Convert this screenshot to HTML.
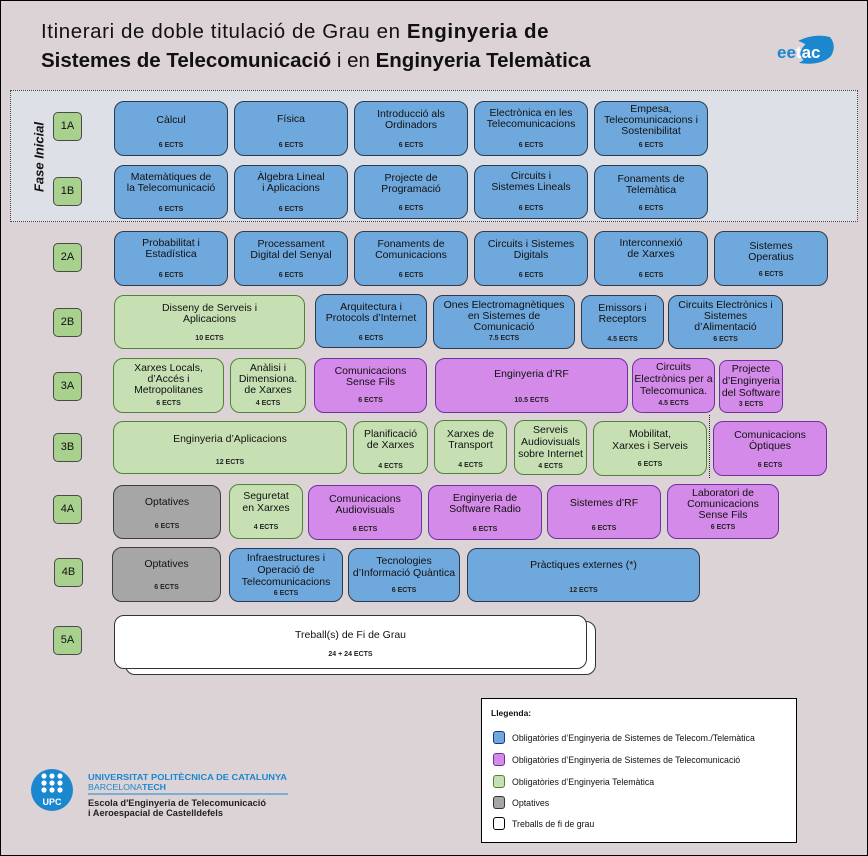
<!DOCTYPE html>
<html><head><meta charset="utf-8">
<style>
*{margin:0;padding:0;box-sizing:border-box}
html,body{width:868px;height:856px;overflow:hidden}
body{background:#dcd3d6;font-family:"Liberation Sans",Arial,sans-serif;color:#111;position:relative}
#frame{position:absolute;left:0;top:0;width:868px;height:856px;border:1px solid #000}
.title{position:absolute;left:41px;font-size:20.5px;white-space:nowrap;color:#111}
#fase{position:absolute;left:10px;top:90px;width:848px;height:132px;border:1px dotted #444;background:#dde0e6}
#faset{position:absolute;left:39px;top:157px;transform:translate(-50%,-50%) rotate(-90deg);font-size:13px;font-weight:bold;font-style:italic;white-space:nowrap}
.lbl{position:absolute;width:29px;height:29px;border:1px solid #4a4a4a;border-radius:5px;background:#a9d18e;font-size:11px;text-align:center;line-height:27px}
.b{position:absolute;border:1px solid #2e3a4a;border-radius:10px;background:#6fa8dc}
.p{background:#d48ae8;border-color:#7030a0}
.g{background:#c6e0b4;border-color:#548235}
.o{background:#a6a6a6;border-color:#3f3f3f}
.w{background:#fff;border-color:#333}
.t{position:absolute;left:-4px;right:-4px;text-align:center;font-size:10.5px;line-height:11px;white-space:nowrap}
.t.l12{line-height:12px}
.e{position:absolute;left:0;right:0;text-align:center;font-size:7px;line-height:8px;font-weight:bold;color:#222;white-space:nowrap}
#leg{position:absolute;left:481px;top:698px;width:316px;height:145px;background:#fff;border:1px solid #000}
.sw{position:absolute;left:11px;width:12px;height:13px;border-radius:3px;border:1px solid #000}
.lt{position:absolute;left:30px;font-size:8.8px;line-height:10px;white-space:nowrap;color:#111}
</style></head><body>
<div id="frame"></div>

<div class="title" style="top:20px;letter-spacing:0.6px">Itinerari de doble titulació de Grau en <b>Enginyeria de</b></div>
<div class="title" style="top:49px"><b>Sistemes de Telecomunicació</b> i en <b>Enginyeria Telemàtica</b></div>

<svg style="position:absolute;left:770px;top:30px" width="70" height="42" viewBox="770 30 70 42">
<path d="M798 41 Q814 33 830 37 Q837 46 831 56 Q821 66 799 63 Q808 58 810 50 Q808 44 798 41 Z" fill="#1b87cf"/>
<ellipse cx="816" cy="51" rx="16" ry="11" transform="rotate(-18 816 51)" fill="#1b87cf"/>
<text x="777" y="58" font-family="Liberation Sans, Arial, sans-serif" font-weight="bold" font-size="17" fill="#1b87cf">ee<tspan fill="#fff">tac</tspan></text>
</svg>

<div id="fase"></div>
<div id="faset">Fase Inicial</div>

<!-- labels -->
<div class="lbl" style="left:53px;top:112px">1A</div>
<div class="lbl" style="left:53px;top:177px">1B</div>
<div class="lbl" style="left:53px;top:243px">2A</div>
<div class="lbl" style="left:53px;top:308px">2B</div>
<div class="lbl" style="left:53px;top:372px">3A</div>
<div class="lbl" style="left:53px;top:433px">3B</div>
<div class="lbl" style="left:53px;top:495px">4A</div>
<div class="lbl" style="left:54px;top:558px">4B</div>
<div class="lbl" style="left:53px;top:626px">5A</div>

<!-- 1A -->
<div class="b" style="left:114px;top:101px;width:114px;height:55px"><div class="t" style="top:12.5px">Càlcul</div><div class="e" style="top:40px">6 ECTS</div></div>
<div class="b" style="left:234px;top:101px;width:114px;height:55px"><div class="t" style="top:11.5px">Física</div><div class="e" style="top:40px">6 ECTS</div></div>
<div class="b" style="left:354px;top:101px;width:114px;height:55px"><div class="t" style="top:6.5px">Introducció als<br>Ordinadors</div><div class="e" style="top:40px">6 ECTS</div></div>
<div class="b" style="left:474px;top:101px;width:114px;height:55px"><div class="t" style="top:5.5px">Electrònica en les<br>Telecomunicacions</div><div class="e" style="top:40px">6 ECTS</div></div>
<div class="b" style="left:594px;top:101px;width:114px;height:55px"><div class="t" style="top:1.5px">Empesa,<br>Telecomunicacions i<br>Sostenibilitat</div><div class="e" style="top:40px">6 ECTS</div></div>

<!-- 1B -->
<div class="b" style="left:114px;top:165px;width:114px;height:54px"><div class="t" style="top:5.5px">Matemàtiques de<br>la Telecomunicació</div><div class="e" style="top:40px">6 ECTS</div></div>
<div class="b" style="left:234px;top:165px;width:114px;height:54px"><div class="t" style="top:5.5px">Àlgebra Lineal<br>i Aplicacions</div><div class="e" style="top:40px">6 ECTS</div></div>
<div class="b" style="left:354px;top:165px;width:114px;height:54px"><div class="t" style="top:6.5px">Projecte de<br>Programació</div><div class="e" style="top:39px">6 ECTS</div></div>
<div class="b" style="left:474px;top:165px;width:114px;height:54px"><div class="t" style="top:4.5px">Circuits i<br>Sistemes Lineals</div><div class="e" style="top:39px">6 ECTS</div></div>
<div class="b" style="left:594px;top:165px;width:114px;height:54px"><div class="t" style="top:7.5px">Fonaments de<br>Telemàtica</div><div class="e" style="top:39px">6 ECTS</div></div>

<!-- 2A -->
<div class="b" style="left:114px;top:231px;width:114px;height:55px"><div class="t" style="top:5.5px">Probabilitat i<br>Estadística</div><div class="e" style="top:40px">6 ECTS</div></div>
<div class="b" style="left:234px;top:231px;width:114px;height:55px"><div class="t" style="top:6.5px">Processament<br>Digital del Senyal</div><div class="e" style="top:40px">6 ECTS</div></div>
<div class="b" style="left:354px;top:231px;width:114px;height:55px"><div class="t" style="top:6.5px">Fonaments de<br>Comunicacions</div><div class="e" style="top:40px">6 ECTS</div></div>
<div class="b" style="left:474px;top:231px;width:114px;height:55px"><div class="t" style="top:6.5px">Circuits i Sistemes<br>Digitals</div><div class="e" style="top:40px">6 ECTS</div></div>
<div class="b" style="left:594px;top:231px;width:114px;height:55px"><div class="t" style="top:5.5px">Interconnexió<br>de Xarxes</div><div class="e" style="top:40px">6 ECTS</div></div>
<div class="b" style="left:714px;top:231px;width:114px;height:55px"><div class="t" style="top:8.5px">Sistemes<br>Operatius</div><div class="e" style="top:39px">6 ECTS</div></div>

<!-- 2B -->
<div class="b g" style="left:114px;top:295px;width:191px;height:54px"><div class="t" style="top:6.5px">Disseny de Serveis i<br>Aplicacions</div><div class="e" style="top:39px">10 ECTS</div></div>
<div class="b" style="left:315px;top:294px;width:112px;height:54px"><div class="t" style="top:6.5px">Arquitectura i<br>Protocols d’Internet</div><div class="e" style="top:40px">6 ECTS</div></div>
<div class="b" style="left:433px;top:295px;width:142px;height:54px"><div class="t" style="top:3.5px">Ones Electromagnètiques<br>en Sistemes de<br>Comunicació</div><div class="e" style="top:39px">7.5 ECTS</div></div>
<div class="b" style="left:581px;top:295px;width:83px;height:54px"><div class="t" style="top:6.5px">Emissors i<br>Receptors</div><div class="e" style="top:40px">4.5 ECTS</div></div>
<div class="b" style="left:668px;top:295px;width:115px;height:54px"><div class="t" style="top:3.5px">Circuits Electrònics i<br>Sistemes<br>d’Alimentació</div><div class="e" style="top:40px">6 ECTS</div></div>

<!-- 3A -->
<div class="b g" style="left:113px;top:358px;width:111px;height:55px"><div class="t" style="top:3.5px">Xarxes Locals,<br>d’Accés i<br>Metropolitanes</div><div class="e" style="top:41px">6 ECTS</div></div>
<div class="b g" style="left:230px;top:358px;width:76px;height:55px"><div class="t" style="top:3.5px">Anàlisi i<br>Dimensiona.<br>de Xarxes</div><div class="e" style="top:41px">4 ECTS</div></div>
<div class="b p" style="left:314px;top:358px;width:113px;height:55px"><div class="t" style="top:6.5px">Comunicacions<br>Sense Fils</div><div class="e" style="top:38px">6 ECTS</div></div>
<div class="b p" style="left:435px;top:358px;width:193px;height:55px"><div class="t" style="top:9.5px">Enginyeria d’RF</div><div class="e" style="top:38px">10.5 ECTS</div></div>
<div class="b p" style="left:632px;top:358px;width:83px;height:55px"><div class="t l12" style="top:1.5px">Circuits<br>Electrònics per a<br>Telecomunica.</div><div class="e" style="top:41px">4.5 ECTS</div></div>
<div class="b p" style="left:719px;top:360px;width:64px;height:53px;border-radius:8px"><div class="t l12" style="top:1.5px">Projecte<br>d’Enginyeria<br>del Software</div><div class="e" style="top:40px">3 ECTS</div></div>

<!-- 3B -->
<div class="b g" style="left:113px;top:421px;width:234px;height:53px"><div class="t" style="top:11.5px">Enginyeria d’Aplicacions</div><div class="e" style="top:37px">12 ECTS</div></div>
<div class="b g" style="left:353px;top:421px;width:75px;height:53px"><div class="t" style="top:6.5px">Planificació<br>de Xarxes</div><div class="e" style="top:41px">4 ECTS</div></div>
<div class="b g" style="left:434px;top:420px;width:73px;height:54px"><div class="t" style="top:7.5px">Xarxes de<br>Transport</div><div class="e" style="top:41px">4 ECTS</div></div>
<div class="b g" style="left:514px;top:420px;width:73px;height:55px"><div class="t l12" style="top:3px">Serveis<br>Audiovisuals<br>sobre Internet</div><div class="e" style="top:42px">4 ECTS</div></div>
<div class="b g" style="left:593px;top:421px;width:114px;height:55px"><div class="t l12" style="top:6px">Mobilitat,<br>Xarxes i Serveis</div><div class="e" style="top:39px">6 ECTS</div></div>
<div style="position:absolute;left:709px;top:415px;width:0;height:63px;border-left:1px dotted #222"></div>
<div class="b p" style="left:713px;top:421px;width:114px;height:55px"><div class="t" style="top:7.5px">Comunicacions<br>Òptiques</div><div class="e" style="top:40px">6 ECTS</div></div>

<!-- 4A -->
<div class="b o" style="left:113px;top:485px;width:108px;height:54px"><div class="t" style="top:10.5px">Optatives</div><div class="e" style="top:37px">6 ECTS</div></div>
<div class="b g" style="left:229px;top:484px;width:74px;height:55px"><div class="t l12" style="top:5px">Seguretat<br>en Xarxes</div><div class="e" style="top:39px">4 ECTS</div></div>
<div class="b p" style="left:308px;top:485px;width:114px;height:55px"><div class="t" style="top:7.5px">Comunicacions<br>Audiovisuals</div><div class="e" style="top:40px">6 ECTS</div></div>
<div class="b p" style="left:428px;top:485px;width:114px;height:55px"><div class="t" style="top:6.5px">Enginyeria de<br>Software Radio</div><div class="e" style="top:40px">6 ECTS</div></div>
<div class="b p" style="left:547px;top:485px;width:114px;height:54px"><div class="t" style="top:11.5px">Sistemes d’RF</div><div class="e" style="top:39px">6 ECTS</div></div>
<div class="b p" style="left:667px;top:484px;width:112px;height:55px"><div class="t" style="top:2.5px">Laboratori de<br>Comunicacions<br>Sense Fils</div><div class="e" style="top:39px">6 ECTS</div></div>

<!-- 4B -->
<div class="b o" style="left:112px;top:547px;width:109px;height:55px"><div class="t" style="top:10.5px">Optatives</div><div class="e" style="top:36px">6 ECTS</div></div>
<div class="b" style="left:229px;top:548px;width:114px;height:54px"><div class="t l12" style="top:3px">Infraestructures i<br>Operació de<br>Telecomunicacions</div><div class="e" style="top:41px">6 ECTS</div></div>
<div class="b" style="left:348px;top:548px;width:112px;height:54px"><div class="t l12" style="top:6px">Tecnologies<br>d’Informació Quàntica</div><div class="e" style="top:38px">6 ECTS</div></div>
<div class="b" style="left:467px;top:548px;width:233px;height:54px"><div class="t" style="top:10.5px">Pràctiques externes (*)</div><div class="e" style="top:38px">12 ECTS</div></div>

<!-- 5A -->
<div class="b w" style="left:125px;top:621px;width:471px;height:54px"></div>
<div class="b w" style="left:114px;top:615px;width:473px;height:54px"><div class="t" style="top:13.5px">Treball(s) de Fi de Grau</div><div class="e" style="top:35px">24 + 24 ECTS</div></div>

<!-- legend -->
<div id="leg">
  <div style="position:absolute;left:9px;top:9px;font-size:8.5px;font-weight:bold;line-height:10px">Llegenda:</div>
  <div class="sw" style="top:32px;background:#6fa8dc;border-color:#1f2f8a"></div><div class="lt" style="top:34px">Obligatòries d’Enginyeria de Sistemes de Telecom./Telemàtica</div>
  <div class="sw" style="top:54px;background:#d48ae8;border-color:#7030a0"></div><div class="lt" style="top:56px">Obligatòries d’Enginyeria de Sistemes de Telecomunicació</div>
  <div class="sw" style="top:76px;background:#c6e0b4;border-color:#548235"></div><div class="lt" style="top:78px">Obligatòries d’Enginyeria Telemàtica</div>
  <div class="sw" style="top:97px;background:#a6a6a6;border-color:#333"></div><div class="lt" style="top:99px">Optatives</div>
  <div class="sw" style="top:118px;background:#fff;border-color:#000"></div><div class="lt" style="top:120px">Treballs de fi de grau</div>
</div>

<!-- UPC logo -->
<svg style="position:absolute;left:28px;top:764px" width="270" height="56" viewBox="28 764 270 56">
<circle cx="52" cy="790" r="21" fill="#1b87cf"/>
<g fill="#fff">
<circle cx="44" cy="776" r="2.6"/><circle cx="52" cy="776" r="2.6"/><circle cx="60" cy="776" r="2.6"/>
<circle cx="44" cy="783" r="2.6"/><circle cx="52" cy="783" r="2.6"/><circle cx="60" cy="783" r="2.6"/>
<circle cx="44" cy="790" r="2.6"/><circle cx="52" cy="790" r="2.6"/><circle cx="60" cy="790" r="2.6"/>
</g>
<text x="52" y="805" text-anchor="middle" font-family="Liberation Sans, Arial, sans-serif" font-weight="bold" font-size="9" fill="#fff">UPC</text>
<text x="88" y="780" textLength="199" lengthAdjust="spacingAndGlyphs" font-family="Liberation Sans, Arial, sans-serif" font-weight="bold" font-size="8.2" fill="#1b87cf">UNIVERSITAT POLITÈCNICA DE CATALUNYA</text>
<text x="88" y="790" textLength="78" lengthAdjust="spacingAndGlyphs" font-family="Liberation Sans, Arial, sans-serif" font-size="8.2" fill="#1b87cf">BARCELONA<tspan font-weight="bold">TECH</tspan></text>
<rect x="88" y="793.5" width="200" height="1" fill="#1b87cf"/>
<text x="88" y="806" textLength="178" lengthAdjust="spacingAndGlyphs" font-family="Liberation Sans, Arial, sans-serif" font-weight="bold" font-size="8.8" fill="#222">Escola d'Enginyeria de Telecomunicació</text>
<text x="88" y="816" textLength="135" lengthAdjust="spacingAndGlyphs" font-family="Liberation Sans, Arial, sans-serif" font-weight="bold" font-size="8.8" fill="#222">i Aeroespacial de Castelldefels</text>
</svg>

</body></html>
